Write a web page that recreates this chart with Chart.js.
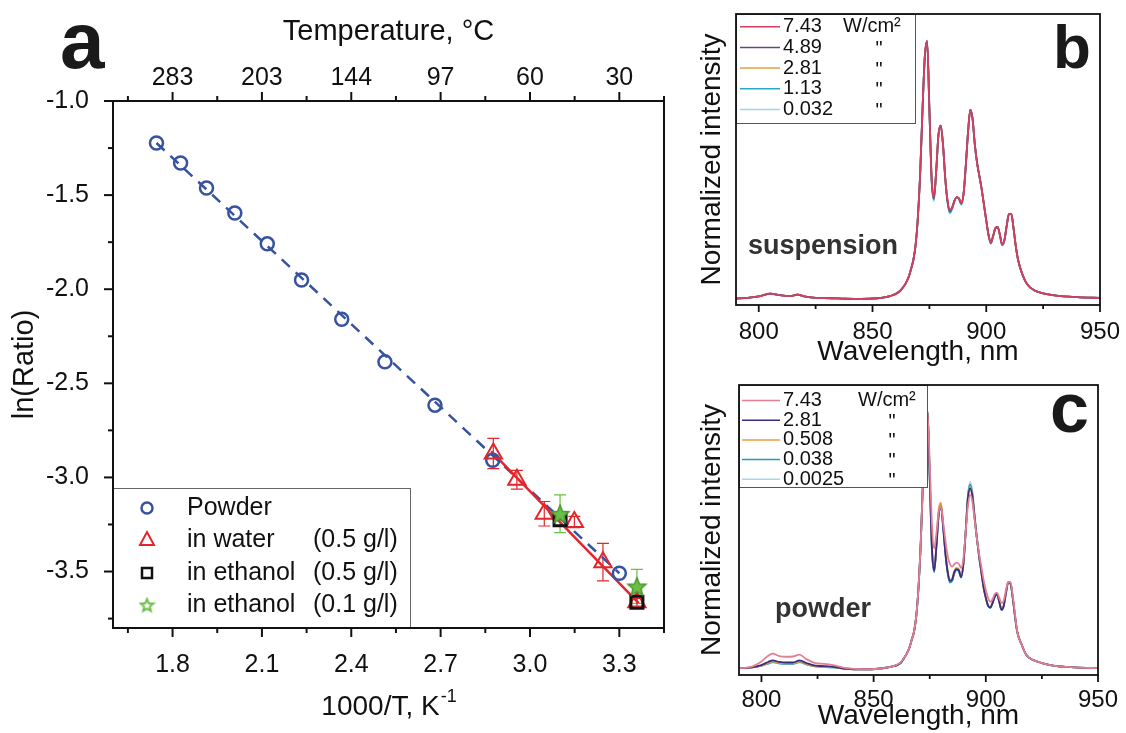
<!DOCTYPE html>
<html>
<head>
<meta charset="utf-8">
<script src="https://cdn.jsdelivr.net/npm/chart.js"></script>
<style>
  html, body { margin: 0; padding: 0; background: #fff; }
  #wrap { position: relative; width: 1126px; height: 733px; overflow: hidden; }
  canvas { position: absolute; }
</style>
</head>
<body>
<div id="wrap">
  <canvas id="ca" width="690" height="733" style="left:0;top:0"></canvas>
  <canvas id="cb" width="436" height="372" style="left:690px;top:0"></canvas>
  <canvas id="cc" width="436" height="363" style="left:690px;top:370px"></canvas>
</div>
<script>
const FONT = "'Liberation Sans', Arial, sans-serif";
Chart.defaults.font.family = FONT;
Chart.defaults.color = '#111';

// ---- panel a: ln(Ratio) vs 1000/T ----
const powderX = [1.746, 1.827, 1.914, 2.009, 2.118, 2.233, 2.368, 2.513, 2.681, 2.875, 3.300];
const powderY = [-1.223, -1.329, -1.462, -1.595, -1.759, -1.951, -2.160, -2.386, -2.616, -2.909, -3.509];
const waterX = [2.877, 2.956, 3.048, 3.149, 3.245, 3.359];
const waterY = [-2.873, -3.012, -3.193, -3.237, -3.450, -3.663];
const waterErr = [0.08, 0.05, 0.065, 0.03, 0.10, 0.02];
const eth05X = [3.101, 3.359];
const eth05Y = [-3.225, -3.663];
const eth01X = [3.101, 3.359];
const eth01Y = [-3.193, -3.579];
const eth01Err = [0.10, 0.09];
const powderFitX = [1.746, 3.300];
const powderFitY = [-1.223, -3.509];
const waterFitX = [2.870, 3.365];
const waterFitY = [-2.862, -3.668];

const aMajorX = [1.8, 2.1, 2.4, 2.7, 3.0, 3.3];
const aMinorX = [1.65, 1.95, 2.25, 2.55, 2.85, 3.15, 3.45];
const aXLabels = ['1.8', '2.1', '2.4', '2.7', '3.0', '3.3'];
const tempLabels = ['283', '203', '144', '97', '60', '30'];
const aMajorY = [-3.5, -3.0, -2.5, -2.0, -1.5, -1.0];
const aMinorY = [-3.75, -3.25, -2.75, -2.25, -1.75, -1.25];
const aYLabels = ['-3.5', '-3.0', '-2.5', '-2.0', '-1.5', '-1.0'];
const legendANames = ['Powder', 'in water', 'in ethanol', 'in ethanol'];
const legendAConc = ['', '(0.5 g/l)', '(0.5 g/l)', '(0.1 g/l)'];

// ---- panels b, c: spectra ----
const wavelength = [790,795,800,803,805,808,811,814,817,820,824,828,832,838,845,852,858,862,
  864,865,866,867,868,869,870,871,872,873,874,875,876,877,878,879,880,881,882,883,884,885,886,887,888,889,
  890,891,892,893,894,895,896,897,898,899,900,901,902,903,904,905,906,907,908,909,910,911,912,913,914,
  916,918,921,925,930,940,950];
const specMajor = [800, 850, 900, 950];
const specMinor = [825, 875, 925];
const specLabels = ['800', '850', '900', '950'];

const suspPower = ['7.43', '4.89', '2.81', '1.13', '0.032'];
const susp743 = [.010,.012,.018,.026,.030,.025,.021,.019,.026,.018,.013,.012,.011,.009,.008,.011,.020,.038,
  .060,.075,.095,.125,.16,.22,.33,.50,.74,.94,1.0,.74,.47,.40,.50,.64,.675,.60,.47,.385,.35,.36,.385,.40,.395,.378,
  .41,.52,.65,.735,.70,.60,.53,.48,.43,.37,.31,.255,.225,.25,.28,.285,.255,.218,.235,.29,.335,.335,.28,.21,.158,
  .10,.065,.042,.030,.022,.015,.012];
const susp489 = [.010,.012,.018,.025,.029,.025,.021,.019,.025,.018,.013,.012,.011,.009,.008,.011,.020,.038,
  .060,.075,.095,.125,.16,.22,.33,.50,.74,.94,1.0,.74,.47,.395,.50,.64,.675,.60,.47,.383,.345,.36,.385,.40,.395,.376,
  .41,.52,.65,.735,.70,.60,.53,.48,.43,.37,.31,.255,.224,.25,.28,.285,.255,.217,.235,.29,.335,.335,.28,.21,.158,
  .10,.065,.042,.030,.022,.015,.012];
const susp281 = [.010,.012,.018,.025,.029,.025,.021,.019,.025,.018,.013,.012,.011,.009,.008,.011,.020,.038,
  .060,.075,.095,.125,.16,.22,.33,.50,.74,.94,1.0,.74,.47,.398,.50,.64,.675,.60,.47,.384,.347,.36,.385,.40,.395,.377,
  .41,.52,.65,.735,.70,.60,.53,.48,.43,.37,.31,.255,.224,.25,.28,.285,.255,.217,.235,.29,.335,.335,.28,.21,.158,
  .10,.065,.042,.030,.022,.015,.012];
const susp113 = [.010,.012,.018,.025,.029,.024,.021,.019,.025,.018,.013,.012,.011,.009,.008,.011,.020,.038,
  .060,.075,.095,.125,.16,.22,.33,.50,.74,.94,1.0,.74,.46,.39,.50,.64,.675,.60,.47,.38,.34,.355,.383,.40,.393,.372,
  .41,.52,.65,.735,.70,.60,.53,.48,.43,.37,.31,.253,.222,.248,.28,.284,.253,.215,.234,.29,.335,.335,.28,.21,.158,
  .10,.065,.042,.030,.022,.015,.012];
const susp0032 = [.010,.012,.018,.025,.028,.024,.020,.019,.024,.018,.013,.012,.011,.009,.008,.011,.020,.038,
  .060,.075,.095,.125,.16,.22,.33,.50,.74,.94,1.0,.74,.46,.385,.50,.64,.675,.60,.47,.378,.337,.353,.382,.40,.392,.370,
  .41,.52,.65,.735,.70,.60,.53,.48,.43,.37,.31,.252,.220,.247,.28,.284,.252,.214,.233,.29,.335,.335,.28,.21,.158,
  .10,.065,.042,.030,.022,.015,.012];

const powdPower = ['7.43', '2.81', '0.508', '0.038', '0.0025'];
const powd743 = [.010,.014,.036,.058,.066,.056,.054,.055,.062,.045,.030,.027,.022,.010,.006,.008,.016,.032,
  .055,.07,.09,.12,.15,.21,.32,.49,.73,.93,.995,.80,.56,.47,.53,.61,.63,.57,.50,.44,.41,.40,.41,.415,.41,.395,
  .43,.53,.63,.675,.65,.58,.51,.45,.40,.35,.31,.28,.265,.275,.295,.30,.28,.26,.27,.31,.34,.34,.29,.22,.15,
  .10,.062,.042,.030,.020,.013,.010];
const powd281 = [.010,.012,.022,.034,.040,.034,.032,.032,.040,.030,.020,.018,.015,.008,.006,.008,.016,.030,
  .055,.07,.09,.12,.15,.21,.32,.49,.73,.94,1.0,.74,.47,.385,.48,.60,.63,.55,.45,.38,.345,.35,.38,.39,.385,.36,
  .41,.53,.66,.70,.67,.59,.51,.44,.38,.32,.28,.25,.243,.26,.285,.295,.265,.235,.25,.30,.34,.335,.28,.21,.15,
  .10,.062,.042,.030,.020,.013,.010];
const powd0508 = [.010,.012,.020,.030,.036,.031,.029,.029,.036,.027,.018,.016,.014,.008,.006,.008,.016,.030,
  .055,.07,.09,.12,.15,.21,.32,.49,.73,.94,1.0,.75,.48,.39,.49,.62,.645,.56,.46,.385,.35,.355,.385,.395,.39,.365,
  .41,.53,.66,.705,.67,.59,.51,.44,.38,.32,.28,.25,.245,.262,.287,.296,.266,.237,.252,.30,.34,.335,.28,.21,.15,
  .10,.062,.042,.030,.020,.013,.010];
const powd0038 = [.010,.012,.020,.028,.034,.029,.027,.027,.034,.025,.017,.015,.013,.008,.006,.008,.016,.030,
  .055,.07,.09,.12,.15,.21,.32,.49,.73,.94,1.0,.74,.46,.38,.48,.60,.635,.55,.45,.375,.34,.345,.375,.388,.382,.358,
  .41,.53,.67,.715,.68,.59,.51,.44,.38,.32,.28,.25,.242,.26,.284,.294,.264,.233,.25,.30,.34,.335,.28,.21,.15,
  .10,.062,.042,.030,.020,.013,.010];
const powd00025 = [.010,.012,.019,.027,.032,.028,.026,.026,.032,.024,.016,.014,.012,.008,.006,.008,.016,.030,
  .055,.07,.09,.12,.15,.21,.32,.49,.73,.94,1.0,.74,.46,.378,.48,.60,.64,.55,.45,.375,.338,.345,.375,.388,.382,.358,
  .41,.53,.67,.725,.69,.60,.51,.44,.38,.32,.28,.25,.242,.26,.284,.294,.264,.233,.25,.30,.34,.335,.28,.21,.15,
  .10,.062,.042,.030,.020,.013,.010];

const BLUE = '#3652a0', RED = '#e3262b', GREEN = '#6abf45';
const suspColors = ['#d23f5f', '#6b3f8f', '#e3a23a', '#2aa5c9', '#9fd6ea'];
const powdColors = ['#e37f92', '#3d2a7e', '#e8a23f', '#1f9cc2', '#a6d7ea'];

const pts = (xs, ys) => xs.map((x, i) => ({ x: x, y: ys[i] }));

function starCanvas(size, fill, stroke, lw) {
  const c = document.createElement('canvas');
  c.width = c.height = size;
  const g = c.getContext('2d');
  const cx = size / 2, cy = size / 2 + size * 0.04, R = size / 2 - lw, r = R * 0.45;
  g.beginPath();
  for (let k = 0; k < 10; k++) {
    const ang = -Math.PI / 2 + k * Math.PI / 5, rr = k % 2 ? r : R;
    g.lineTo(cx + rr * Math.cos(ang), cy + rr * Math.sin(ang));
  }
  g.closePath();
  if (fill) { g.fillStyle = fill; g.fill(); }
  g.strokeStyle = stroke; g.lineWidth = lw; g.stroke();
  return c;
}
const starBig = starCanvas(22, GREEN, '#4f9a34', 1.5);
const starSmall = starCanvas(17, null, GREEN, 2);

// box around plot area + outward tick marks
function boxTicks(lw, majorLen, minorLen, marks) {
  return {
    id: 'boxTicks',
    afterDraw(chart) {
      const { ctx, chartArea: a } = chart;
      ctx.save();
      ctx.strokeStyle = '#111';
      ctx.lineWidth = lw;
      ctx.strokeRect(a.left, a.top, a.right - a.left, a.bottom - a.top);
      marks.forEach(m => {
        const s = chart.scales[m.scale];
        const draw = (vals, len) => vals.forEach(v => {
          const p = s.getPixelForValue(v);
          ctx.beginPath();
          if (m.edge === 'bottom') { ctx.moveTo(p, a.bottom); ctx.lineTo(p, a.bottom + len); }
          else if (m.edge === 'top') { ctx.moveTo(p, a.top); ctx.lineTo(p, a.top - len); }
          else { ctx.moveTo(a.left, p); ctx.lineTo(a.left - len, p); }
          ctx.stroke();
        });
        draw(m.major, majorLen);
        draw(m.minor, minorLen);
      });
      ctx.restore();
    }
  };
}

function texts(items) {
  return {
    id: 'texts',
    afterDraw(chart) {
      const ctx = chart.ctx;
      ctx.save();
      items.forEach(t => {
        ctx.font = t.font + ' ' + FONT;
        ctx.fillStyle = t.color || '#1a1a1a';
        ctx.textAlign = 'left';
        ctx.textBaseline = 'alphabetic';
        ctx.fillText(t.text, t.x, t.y);
      });
      ctx.restore();
    }
  };
}

const errorBars = {
  id: 'errorBars',
  beforeDatasetsDraw(chart) {
    const { ctx } = chart, xs = chart.scales.x, ys = chart.scales.y;
    chart.data.datasets.forEach(ds => {
      if (!ds.errors) return;
      ctx.save();
      ctx.strokeStyle = ds.errColor;
      ctx.lineWidth = 1.2;
      ds.data.forEach((p, i) => {
        const px = xs.getPixelForValue(p.x);
        const t = ys.getPixelForValue(p.y + ds.errors[i]), b = ys.getPixelForValue(p.y - ds.errors[i]);
        ctx.beginPath();
        ctx.moveTo(px, t); ctx.lineTo(px, b);
        ctx.moveTo(px - 6, t); ctx.lineTo(px + 6, t);
        ctx.moveTo(px - 6, b); ctx.lineTo(px + 6, b);
        ctx.stroke();
      });
      ctx.restore();
    });
  }
};

function drawMarker(ctx, kind, x, y) {
  ctx.beginPath();
  if (kind === 'circle') {
    ctx.strokeStyle = BLUE; ctx.lineWidth = 2.5;
    ctx.arc(x, y, 5.5, 0, Math.PI * 2); ctx.stroke();
  } else if (kind === 'triangle') {
    ctx.strokeStyle = RED; ctx.lineWidth = 2;
    ctx.moveTo(x, y - 8); ctx.lineTo(x + 7, y + 5); ctx.lineTo(x - 7, y + 5); ctx.closePath(); ctx.stroke();
  } else if (kind === 'rect') {
    ctx.strokeStyle = '#111'; ctx.lineWidth = 2.5;
    ctx.rect(x - 5, y - 5, 10, 10); ctx.stroke();
  } else {
    ctx.drawImage(starSmall, x - starSmall.width / 2, y - starSmall.height / 2);
  }
}

const legendA = {
  id: 'legendA',
  afterDraw(chart) {
    const { ctx, chartArea: a } = chart;
    const top = a.bottom - 140;
    ctx.save();
    ctx.fillStyle = '#fff';
    ctx.fillRect(a.left, top, 297, 140);
    ctx.strokeStyle = '#666'; ctx.lineWidth = 1;
    ctx.strokeRect(a.left + 0.5, top + 0.5, 297, 140);
    const kinds = ['circle', 'triangle', 'rect', 'star'];
    const rows = [20, 52, 85, 117];
    ctx.font = '25px ' + FONT;
    ctx.textBaseline = 'middle';
    ctx.textAlign = 'left';
    legendANames.forEach((n, i) => {
      const y = top + rows[i];
      drawMarker(ctx, kinds[i], a.left + 34, y);
      ctx.fillStyle = '#111';
      ctx.fillText(n, a.left + 74, y);
      if (legendAConc[i]) ctx.fillText(legendAConc[i], a.left + 200, y);
    });
    ctx.restore();
  }
};

const bottomTitleA = {
  id: 'bottomTitleA',
  afterDraw(chart) {
    const { ctx, chartArea: a } = chart;
    const main = '1000/T, K', sup = '-1';
    ctx.save();
    ctx.fillStyle = '#111';
    ctx.font = '28px ' + FONT;
    const w1 = ctx.measureText(main).width;
    ctx.font = '18px ' + FONT;
    const w2 = ctx.measureText(sup).width;
    const x0 = (a.left + a.right) / 2 - (w1 + w2) / 2;
    ctx.textAlign = 'left'; ctx.textBaseline = 'alphabetic';
    ctx.font = '28px ' + FONT;
    ctx.fillText(main, x0, 715);
    ctx.font = '18px ' + FONT;
    ctx.fillText(sup, x0 + w1 + 1, 702);
    ctx.restore();
  }
};

function setTicks(vals) {
  return s => { s.ticks = vals.map(v => ({ value: v })); };
}

new Chart(document.getElementById('ca'), {
  type: 'scatter',
  data: {
    datasets: [
      { label: 'in ethanol (0.1 g/l)', data: pts(eth01X, eth01Y), pointStyle: starBig,
        errors: eth01Err, errColor: GREEN },
      { label: 'in ethanol (0.5 g/l)', data: pts(eth05X, eth05Y), pointStyle: 'rect', pointRadius: 8.5,
        borderColor: '#111', backgroundColor: 'rgba(0,0,0,0)', borderWidth: 3 },
      { label: 'in water (0.5 g/l)', data: pts(waterX, waterY), pointStyle: 'triangle', pointRadius: 10,
        borderColor: RED, backgroundColor: 'rgba(0,0,0,0)', borderWidth: 2,
        errors: waterErr, errColor: RED },
      { label: 'Powder', data: pts(powderX, powderY), pointStyle: 'circle', pointRadius: 6.5,
        borderColor: BLUE, backgroundColor: 'rgba(0,0,0,0)', borderWidth: 2.5 },
      { label: 'water fit', data: pts(waterFitX, waterFitY), showLine: true, pointRadius: 0,
        borderColor: RED, borderWidth: 2.5 },
      { label: 'powder fit', data: pts(powderFitX, powderFitY), showLine: true, pointRadius: 0,
        borderColor: BLUE, borderWidth: 2.5, borderDash: [11, 8] }
    ]
  },
  options: {
    responsive: false,
    animation: false,
    layout: { padding: { left: 0, top: 0, bottom: 0, right: 26 } },
    plugins: { legend: { display: false }, tooltip: { enabled: false } },
    scales: {
      x: {
        type: 'linear', position: 'bottom', min: 1.6, max: 3.45,
        afterBuildTicks: setTicks(aMajorX),
        afterFit: s => { s.height = 105; },
        grid: { display: false }, border: { display: false },
        ticks: { autoSkip: false, maxRotation: 0, padding: 14, font: { size: 25 }, color: '#111',
                 callback: (v, i) => aXLabels[i] }
      },
      x2: {
        type: 'linear', position: 'top', min: 1.6, max: 3.45,
        afterBuildTicks: setTicks(aMajorX),
        afterFit: s => { s.height = 101; },
        grid: { display: false }, border: { display: false },
        title: { display: true, text: 'Temperature, °C', font: { size: 29 }, color: '#111', padding: { top: 15, bottom: 0 } },
        ticks: { autoSkip: false, maxRotation: 0, padding: 0, font: { size: 25 }, color: '#111',
                 callback: (v, i) => tempLabels[i] }
      },
      y: {
        type: 'linear', position: 'left', min: -3.8, max: -1.0,
        afterBuildTicks: setTicks(aMajorY),
        afterFit: s => { s.width = 113; },
        grid: { display: false }, border: { display: false },
        title: { display: true, text: 'ln(Ratio)', font: { size: 29 }, color: '#111', padding: { top: 8, bottom: 0 } },
        ticks: { autoSkip: false, padding: 16, font: { size: 25 }, color: '#111',
                 callback: (v, i) => aYLabels[i] }
      }
    }
  },
  plugins: [errorBars, legendA,
    boxTicks(2, 9, 5, [
      { scale: 'x', edge: 'bottom', major: aMajorX, minor: aMinorX },
      { scale: 'x2', edge: 'top', major: aMajorX, minor: aMinorX },
      { scale: 'y', edge: 'left', major: aMajorY, minor: aMinorY }
    ]),
    bottomTitleA,
    texts([{ text: 'a', x: 60, y: 68, font: 'bold 80px' }])
  ]
});

function specLegend(o) {
  return {
    id: 'specLegend',
    afterDraw(chart) {
      const { ctx, chartArea: a } = chart;
      ctx.save();
      ctx.fillStyle = '#fff';
      ctx.fillRect(a.left, a.top, o.w, o.h);
      ctx.strokeStyle = '#555'; ctx.lineWidth = 1;
      ctx.strokeRect(a.left + 0.5, a.top + 0.5, o.w, o.h);
      ctx.font = '20px ' + FONT;
      ctx.textBaseline = 'middle';
      chart.data.datasets.forEach((ds, i) => {
        const y = a.top + o.row0 + i * o.rowH;
        ctx.strokeStyle = ds.borderColor; ctx.lineWidth = 1.5;
        ctx.beginPath(); ctx.moveTo(a.left + o.lx0, y); ctx.lineTo(a.left + o.lx1, y); ctx.stroke();
        ctx.fillStyle = '#111';
        ctx.textAlign = 'left';
        ctx.fillText(ds.label, a.left + o.tx, y);
        if (i === 0) ctx.fillText('W/cm²', a.left + o.ux, y);
        else { ctx.textAlign = 'center'; ctx.fillText('"', a.left + o.qx, y + 2); }
      });
      ctx.restore();
    }
  };
}

function specChart(id, powers, series, colors, yMin, yMax, xAxisH, tickPad, titlePad, legendOpts, extraTexts, padTop, padRight) {
  return new Chart(document.getElementById(id), {
    type: 'line',
    data: {
      datasets: series.map((s, i) => ({
        label: powers[i], data: pts(wavelength, s), borderColor: colors[i], borderWidth: 1.8,
        pointRadius: 0, cubicInterpolationMode: 'monotone', fill: false
      }))
    },
    options: {
      responsive: false,
      animation: false,
      layout: { padding: { left: 0, top: padTop, bottom: 0, right: padRight } },
      plugins: { legend: { display: false }, tooltip: { enabled: false } },
      scales: {
        x: {
          type: 'linear', min: 790, max: 950,
          afterBuildTicks: setTicks(specMajor),
          afterFit: s => { s.height = xAxisH; },
          grid: { display: false }, border: { display: false },
          title: { display: true, text: 'Wavelength, nm', font: { size: 28 }, color: '#111', padding: { top: 0, bottom: titlePad } },
          ticks: { autoSkip: false, maxRotation: 0, padding: tickPad, font: { size: 24 }, color: '#111',
                   callback: (v, i) => specLabels[i] }
        },
        y: {
          type: 'linear', min: yMin, max: yMax,
          afterFit: s => { s.width = id === 'cb' ? 46 : 49; },
          grid: { display: false }, border: { display: false },
          title: { display: true, text: 'Normalized intensity', font: { size: 28 }, color: '#111', padding: { top: 5, bottom: 0 } },
          ticks: { display: false }
        }
      }
    },
    plugins: [specLegend(legendOpts),
      boxTicks(1.8, 7, 4, [{ scale: 'x', edge: 'bottom', major: specMajor, minor: specMinor }]),
      texts(extraTexts)]
  });
}

specChart('cb', suspPower, [susp743, susp489, susp281, susp113, susp0032], suspColors,
  -0.015, 1.104, 67, 5, 3,
  { w: 179, h: 109, row0: 12.7, rowH: 20.7, lx0: 4, lx1: 44, tx: 47, ux: 107, qx: 143 },
  [{ text: 'b', x: 363, y: 68, font: 'bold 62px' },
   { text: 'suspension', x: 58, y: 254, font: 'bold 27px', color: '#333' }],
  14, 26);

specChart('cc', powdPower, [powd743, powd281, powd0508, powd0038, powd00025], powdColors,
  -0.016, 1.097, 58, 3, 0,
  { w: 188, h: 102, row0: 15.5, rowH: 19.7, lx0: 3, lx1: 41, tx: 44, ux: 119, qx: 153 },
  [{ text: 'c', x: 360, y: 62, font: 'bold 70px' },
   { text: 'powder', x: 85, y: 247, font: 'bold 27px', color: '#333' }],
  15, 28);
</script>
</body>
</html>
